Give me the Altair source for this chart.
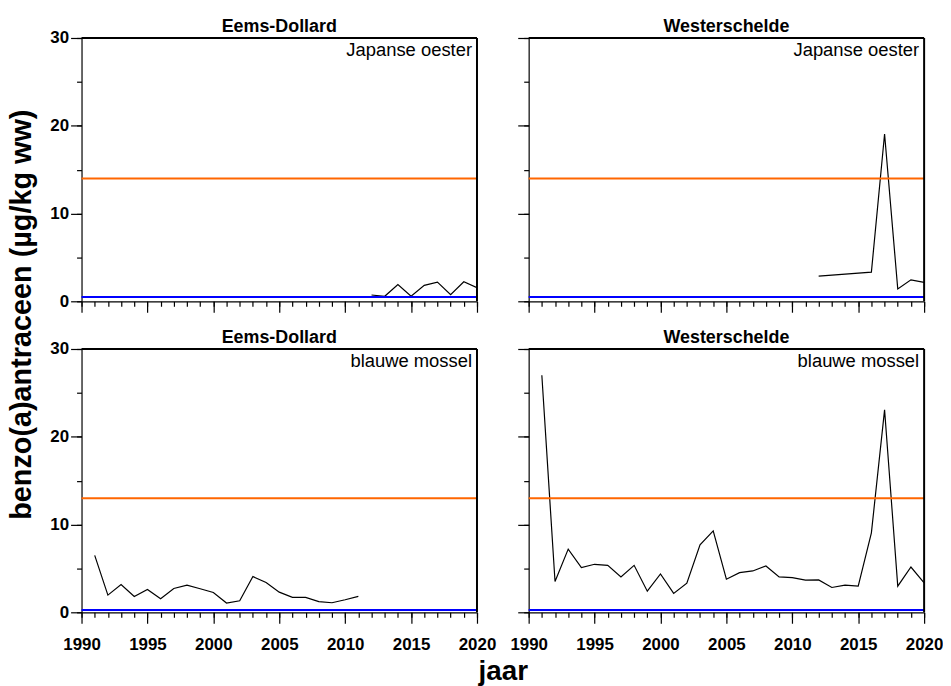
import altair as alt
import pandas as pd

# ---- data ----
years_ed_oester = [2012, 2013, 2014, 2015, 2016, 2017, 2018, 2019, 2020]
vals_ed_oester = [0.72, 0.57, 1.92, 0.57, 1.81, 2.19, 0.75, 2.23, 1.55]

years_ws_oester = [2012, 2016, 2017, 2018, 2019, 2020]
vals_ws_oester = [2.87, 3.32, 19.06, 1.40, 2.45, 2.15]

years_ed_mossel = list(range(1991, 2012))
vals_ed_mossel = [6.48, 1.96, 3.17, 1.81, 2.60, 1.55, 2.71, 3.09, 2.68, 2.26,
                  1.06, 1.32, 4.07, 3.39, 2.30, 1.70, 1.70, 1.21, 1.09, 1.43, 1.81]

years_ws_mossel = list(range(1991, 2021))
vals_ws_mossel = [27.0, 3.51, 7.20, 5.09, 5.47, 5.35, 4.03, 5.35, 2.41, 4.37,
                  2.15, 3.32, 7.69, 9.27, 3.77, 4.52, 4.71, 5.28, 4.03, 3.96,
                  3.66, 3.69, 2.83, 3.09, 2.98, 9.05, 23.07, 2.98, 5.16, 3.35]

gebieden = ["Eems-Dollard", "Westerschelde", "Eems-Dollard", "Westerschelde"]
soorten = ["Japanse oester", "Japanse oester", "blauwe mossel", "blauwe mossel"]
oranje_norm = [14, 14, 13, 13]
blauwe_norm = [0.5, 0.5, 0.25, 0.25]

x_major = [1990, 1995, 2000, 2005, 2010, 2015, 2020]
x_minor = list(range(1990, 2021))
y_major = [0, 10, 20, 30]
y_minor = [0, 5, 10, 15, 20, 25, 30]
x_domain = [1990, 2020]
y_domain = [0, 30]

FONT = "Liberation Sans"
W, H = 398, 265


def panel(i, years, vals, show_x_labels, show_y_labels, y_title=False, x_title=False):
    df = pd.DataFrame({"jaar": years, "waarde": vals})
    xaxis_kw = dict(values=x_major, tickSize=11, labels=show_x_labels, format="d",
                    labelOverlap=False, labelFlush=False, labelPadding=13,
                    grid=False, title=None, orient="bottom")
    if x_title:
        xaxis_kw.update(title="jaar", titleX=424, titleY=68, titleBaseline="alphabetic",
                        titleAnchor="middle", titleAlign="center", titleFontSize=28)
    yaxis_kw = dict(values=y_major, tickSize=11, labels=show_y_labels, format="d",
                    labelOverlap=False, labelFlush=False, labelPadding=2,
                    grid=False, title=None, orient="left")
    if y_title:
        yaxis_kw.update(title="benzo(a)antraceen (µg/kg ww)", titleX=-60, titleY=278,
                        titleBaseline="middle", titleAngle=-90, titleAlign="center",
                        titleFontSize=29)

    xs = alt.Scale(domain=x_domain, nice=False, zero=False)
    ys = alt.Scale(domain=y_domain, nice=False, zero=False)

    line = alt.Chart(df).mark_line(color="black", strokeWidth=1.2, clip=True).encode(
        x=alt.X("jaar:Q", scale=xs, axis=alt.Axis(**xaxis_kw)),
        y=alt.Y("waarde:Q", scale=ys, axis=alt.Axis(**yaxis_kw)),
    )
    minor = alt.Chart(df).mark_line(opacity=0).encode(
        x=alt.X("jaar:Q", axis=alt.Axis(values=x_minor, tickSize=5, labels=False,
                                         domain=False, grid=False, title=None, orient="bottom")),
        y=alt.Y("waarde:Q", axis=alt.Axis(values=y_minor, tickSize=5, labels=False,
                                           domain=False, grid=False, title=None, orient="left")),
    )
    oranje = alt.Chart(pd.DataFrame({"norm": [oranje_norm[i]]})).mark_rule(
        color="#FF6600", strokeWidth=2).encode(y=alt.Y("norm:Q", axis=None))
    blauw = alt.Chart(pd.DataFrame({"norm": [blauwe_norm[i]]})).mark_rule(
        color="#0000FF", strokeWidth=2).encode(y=alt.Y("norm:Q", axis=None))
    top = alt.Chart().mark_rule(color="black", strokeWidth=2).encode(
        y=alt.YDatum(30, axis=None))
    right = alt.Chart().mark_rule(color="black", strokeWidth=2).encode(
        x=alt.XDatum(2020, axis=None))
    label = alt.Chart().mark_text(
        text=soorten[i], align="right", baseline="top", dx=-5, dy=3,
        font=FONT, fontSize=18.5, color="black",
    ).encode(x=alt.XDatum(2020, axis=None), y=alt.YDatum(30, axis=None))
    titel = alt.Chart().mark_text(
        text=gebieden[i], align="center", baseline="alphabetic", dy=-6,
        font=FONT, fontSize=18, fontWeight="bold", color="black",
    ).encode(x=alt.XDatum(2005, axis=None), y=alt.YDatum(30, axis=None))

    return alt.layer(line, minor, oranje, blauw, top, right, label, titel).resolve_axis(
        x="independent", y="independent"
    ).properties(width=W, height=H)


p1 = panel(0, years_ed_oester, vals_ed_oester, False, True, y_title=True)
p2 = panel(1, years_ws_oester, vals_ws_oester, False, False)
p3 = panel(2, years_ed_mossel, vals_ed_mossel, True, True, x_title=True)
p4 = panel(3, years_ws_mossel, vals_ws_mossel, True, False)

chart = alt.concat(
    p1, p2, p3, p4, columns=2, spacing={"row": 48, "column": 52}, bounds="flush"
).configure_view(
    stroke=None
).configure_axis(
    domainColor="black", domainWidth=1.2, tickColor="black", tickWidth=1.2,
    labelFont=FONT, labelFontSize=17, labelFontWeight="bold", labelColor="black",
    titleFont=FONT, titleFontSize=28, titleFontWeight="bold", titleColor="black",
).properties(
    padding={"left": 0, "top": 8, "right": 0, "bottom": 0},
    background="white",
)

chart.save("out.html", embed_options={"renderer": "svg", "actions": False})
